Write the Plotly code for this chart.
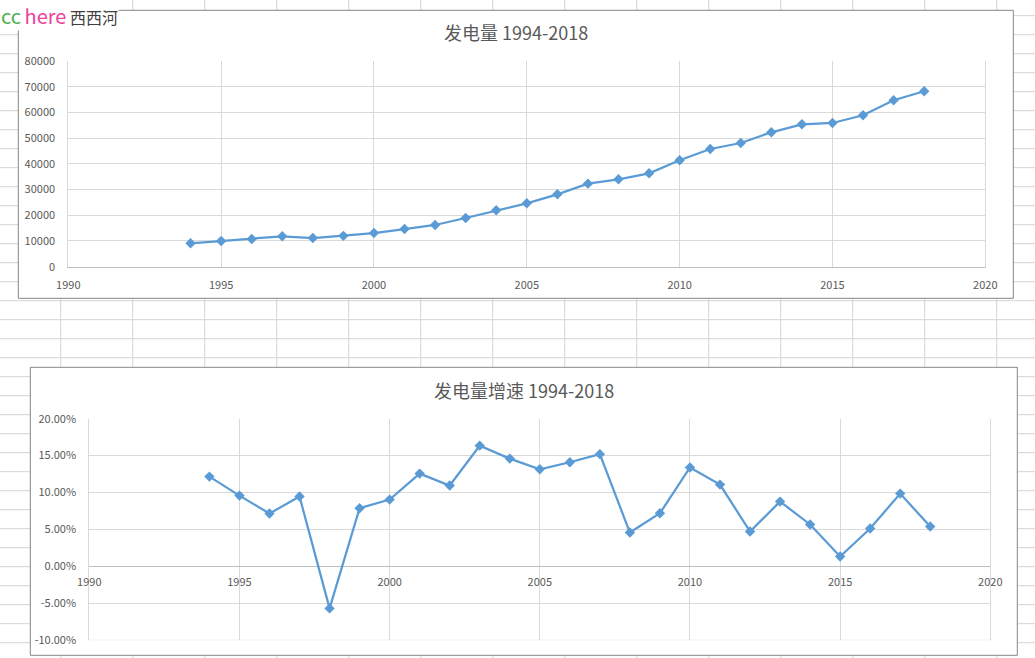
import plotly.graph_objects as go

W, H = 1035, 658

years = list(range(1994, 2019))
generation = [9100, 10000, 10780, 11820, 11160, 12000, 13100, 14660, 16220, 18940,
              21930, 24650, 28150, 32290, 33990, 36320, 41380, 45780, 48110, 52270,
              55380, 55890, 58880, 64720, 68220]
growth = [0.1216, 0.0959, 0.0716, 0.0946, -0.0568, 0.0788, 0.0905, 0.1257, 0.1095, 0.1635,
          0.1460, 0.1315, 0.1410, 0.1520, 0.0459, 0.0720, 0.1340, 0.1108, 0.0473, 0.0878,
          0.0568, 0.0135, 0.0514, 0.0986, 0.0540]

title_top = "发电量 1994-2018"
title_bottom = "发电量增速 1994-2018"
x_ticks = [1990, 1995, 2000, 2005, 2010, 2015, 2020]
y1_ticks = [0, 10000, 20000, 30000, 40000, 50000, 60000, 70000, 80000]
y2_ticks = [-0.10, -0.05, 0.0, 0.05, 0.10, 0.15, 0.20]
y2_text = ["-10.00%", "-5.00%", "0.00%", "5.00%", "10.00%", "15.00%", "20.00%"]

def px(x):
    return x / W

def py(y):
    return 1 - y / H

LINE = "#5b9bd5"
TXT = "#595959"
GRID = "#d9d9d9"
SHEET = "#d4d4d4"
FONT = "Noto Sans CJK SC, Open Sans, sans-serif"

fig = go.Figure()
fig.add_trace(go.Scatter(x=years, y=generation, mode="lines+markers",
                         line=dict(color=LINE, width=2.25),
                         marker=dict(symbol="diamond", size=8, color=LINE),
                         xaxis="x", yaxis="y", showlegend=False))
fig.add_trace(go.Scatter(x=years, y=growth, mode="lines+markers",
                         line=dict(color=LINE, width=2.25),
                         marker=dict(symbol="diamond", size=8, color=LINE),
                         xaxis="x2", yaxis="y2", showlegend=False))

y2_min, y2_max = -0.10, 0.20

shapes = []
# spreadsheet grid background
xg = 60.7
while xg < W:
    shapes.append(dict(type="line", xref="paper", yref="paper", x0=px(xg), x1=px(xg), y0=0, y1=1,
                       line=dict(color=SHEET, width=1), layer="below"))
    xg += 72
yg = 15.7
while yg < H:
    shapes.append(dict(type="line", xref="paper", yref="paper", x0=0, x1=1, y0=py(yg), y1=py(yg),
                       line=dict(color=SHEET, width=1), layer="below"))
    yg += 19
# chart frames
for (x0, y0, x1, y1) in [(18.3, 10.3, 1013.3, 298.3), (30.3, 367.3, 1017.3, 655.3)]:
    shapes.append(dict(type="rect", xref="paper", yref="paper", x0=px(x0), x1=px(x1), y0=py(y1), y1=py(y0),
                       fillcolor="white", line=dict(color="#868686", width=1), layer="below"))
# bottom edge gridline of lower plot area
shapes.append(dict(type="line", xref="x2 domain", yref="y2", x0=0, x1=1, y0=y2_min, y1=y2_min,
                   line=dict(color=GRID, width=1), layer="above"))

# plot areas (pixels)
p1 = dict(l=68.3, r=985.3, t=61.0, b=266.7)
p2 = dict(l=89.3, r=990.3, t=418.7, b=640.3)

dom2 = [py(p2["b"]), py(p2["t"])]
zero_pos = dom2[0] + (0 - y2_min) / (y2_max - y2_min) * (dom2[1] - dom2[0])

tickfont = dict(family=FONT, size=11, color=TXT)

fig.update_layout(
    width=W, height=H, margin=dict(l=0, r=0, t=0, b=0, autoexpand=False),
    paper_bgcolor="white", plot_bgcolor="rgba(0,0,0,0)",
    font=dict(family=FONT, color=TXT),
    shapes=shapes,
    xaxis=dict(domain=[px(p1["l"]), px(p1["r"])], range=[1990, 2020], tickvals=x_ticks, automargin=False,
               showgrid=True, gridcolor=GRID, zeroline=False, showline=True, linecolor="#bfbfbf",
               tickfont=tickfont, ticks="", ticklabelstandoff=8, anchor="y"),
    yaxis=dict(domain=[py(p1["b"]), py(p1["t"])], range=[0, 80000], tickvals=y1_ticks, tickformat="d",
               automargin=False, showgrid=True, gridcolor=GRID, zeroline=False,
               showline=True, linecolor=GRID, mirror=True,
               tickfont=tickfont, ticks="", ticklabelstandoff=10, anchor="x"),
    xaxis2=dict(domain=[px(p2["l"]), px(p2["r"])], range=[1990, 2020], tickvals=x_ticks, automargin=False,
                showgrid=True, gridcolor=GRID, zeroline=False, showline=False,
                tickfont=tickfont, ticks="", ticklabelstandoff=8, anchor="free", position=zero_pos),
    yaxis2=dict(domain=dom2, range=[y2_min, y2_max], tickvals=y2_ticks, ticktext=y2_text, automargin=False,
                showgrid=True, gridcolor=GRID, zeroline=True, zerolinecolor="#bfbfbf", zerolinewidth=1,
                showline=True, linecolor=GRID, mirror=True,
                tickfont=tickfont, ticks="", ticklabelstandoff=10, anchor="x2"),
    annotations=[
        dict(text=title_top, xref="paper", yref="paper", x=px(515.5), y=py(32), xanchor="center",
             yanchor="middle", showarrow=False, font=dict(family=FONT, size=18, color=TXT)),
        dict(text=title_bottom, xref="paper", yref="paper", x=px(524), y=py(389.5), xanchor="center",
             yanchor="middle", showarrow=False, font=dict(family=FONT, size=18, color=TXT)),
        dict(text='<span style="color:#4caf50;font-size:20px">cc</span> '
                  '<span style="color:#f0419a;font-size:20px">here</span> 西西河',
             xref="paper", yref="paper", x=0, y=1, xanchor="left", yanchor="top", showarrow=False,
             bgcolor="white", borderpad=0,
             font=dict(family=FONT, size=16, color="#404040")),
    ],
)

fig.write_html("out.html", post_script="document.body.style.margin='0px';document.body.style.overflow='hidden';")
